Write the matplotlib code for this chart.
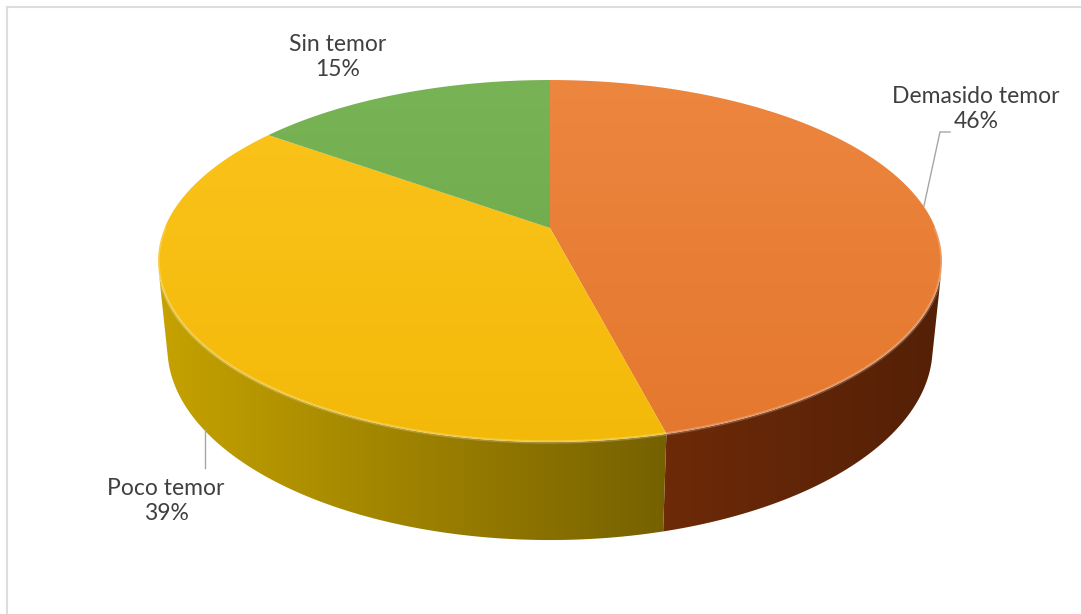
import numpy as np
import matplotlib.pyplot as plt
from matplotlib.patches import Polygon
from matplotlib.lines import Line2D
from matplotlib.colors import to_rgb

# survey answers
labels = ['Demasido temor', 'Poco temor', 'Sin temor']
values = [46, 39, 15]

top_colors = ['#EC7A2C', '#FCBF06', '#6BAC45']
side_colors = ['#782E09', '#887000', '#3F6A22']
side_slope = [0.3, 0.45, 0.45]

# label block centres (pixels) and text style
label_pos = [(976, 109), (166, 501), (338, 57)]
text_color = '#404040'

W, H = 1081, 614
fig = plt.figure(figsize=(W / 100, H / 100), dpi=100)
fig.patch.set_facecolor('white')
ax = fig.add_axes([0, 0, 1, 1])
ax.axis('off')

# simple perspective camera looking down on a disk of radius 1
elev = np.radians(27)
dist = 4.886
thick = 0.255
scale = 1883.0          # pixels per projected unit
cx, cy = 550, 228       # pixel where the pie centre lands
ce, se = np.cos(elev), np.sin(elev)

xlim = (-cx / scale, (W - cx) / scale)
ylim = (-(H - cy) / scale, cy / scale)


def project(x, y, z):
    d = dist + y * ce - z * se
    return x / d, (y * se + z * ce) / d


def rim(theta, z):
    return project(np.cos(theta), np.sin(theta), z)


def px(x, y):
    return (x - cx) / scale, (cy - y) / scale


fracs = np.array(values, dtype=float) / sum(values)
edges = np.radians(90 - 360 * np.concatenate([[0], np.cumsum(fracs)]))
xmax = max(abs(rim(t, 0)[0]) for t in np.linspace(0, 2 * np.pi, 721))

# side wall: one polygon per slice, filled with a left-to-right shade
gx = np.linspace(-1, 1, 400)[None, :]
for i in range(len(values)):
    a0, a1 = edges[i], edges[i + 1]
    th = np.linspace(a0, a1, 400)
    th = th[np.sin(th) < -1 / (dist * ce)]
    if len(th) < 2:
        continue
    pts = [rim(t, 0) for t in th] + [rim(t, -thick) for t in th[::-1]]
    poly = Polygon(pts, closed=True, facecolor='none', edgecolor='none')
    ax.add_patch(poly)
    base = np.array(to_rgb(side_colors[i]))
    shade = (1 - side_slope[i] * gx)[..., None]
    img = np.clip(base[None, None, :] * shade, 0, 1)
    img = np.repeat(img, 2, axis=0)
    im = ax.imshow(img, extent=[-xmax, xmax, ylim[0], 0.0], aspect='auto',
                   interpolation='bilinear', zorder=2)
    im.set_clip_path(poly)

# top faces with a soft vertical gradient
grad = np.linspace(1, 0, 200)[:, None]
for i in range(len(values)):
    a0, a1 = edges[i], edges[i + 1]
    th = np.linspace(a0, a1, 200)
    pts = [project(0, 0, 0)] + [rim(t, 0) for t in th]
    poly = Polygon(pts, closed=True, facecolor='none', edgecolor='none')
    ax.add_patch(poly)
    base = np.array(to_rgb(top_colors[i]))
    light = base + (1 - base) * 0.1
    dark = base * 0.96
    img = dark[None, None, :] * (1 - grad[..., None]) + light[None, None, :] * grad[..., None]
    img = np.repeat(img, 2, axis=1)
    im = ax.imshow(img, extent=[-0.3, 0.3, -0.15, 0.1], aspect='auto',
                   interpolation='bilinear', zorder=3)
    im.set_clip_path(poly)

# faint bevel along the front rim
th = np.linspace(np.radians(180), np.radians(360), 300)
rx, ry = zip(*[rim(t, 0) for t in th])
ax.plot(rx, ry, color='white', alpha=0.22, lw=2.5, zorder=4,
        solid_capstyle='round')
ax.set_xlim(*xlim)
ax.set_ylim(*ylim)

# data labels with leader lines
mids = 0.5 * (edges[:-1] + edges[1:])
for i, (name, v) in enumerate(zip(labels, values)):
    lx, ly = label_pos[i]
    ax.text(*px(lx, ly), f'{name}\n{v}%', ha='center', va='center',
            fontsize=16.5, color=text_color, family=['Lato', 'DejaVu Sans'],
            linespacing=1.2, zorder=6)
    if name == 'Demasido temor':
        ax_, ay_ = rim(mids[i], 0)
        kx, ky = px(lx - 36, ly + 23)
        ex, ey = px(lx - 26, ly + 23)
        ax.plot([ax_, kx, ex], [ay_, ky, ey], color='#A6A6A6', lw=1, zorder=5)
    elif name == 'Poco temor':
        ax_, ay_ = rim(mids[i], -thick)
        kx, ky = px(lx + 39, ly - 33)
        ax.plot([kx, kx], [ay_, ky], color='#A6A6A6', lw=1, zorder=5)

# chart area border (top and left visible)
fig.add_artist(Line2D([7 / W, 1], [1 - 7 / H, 1 - 7 / H], color='#DDDDDD', lw=1.5))
fig.add_artist(Line2D([7 / W, 7 / W], [0, 1 - 7 / H], color='#DDDDDD', lw=1.5))

fig.savefig('out.png', dpi=100, facecolor='white')
